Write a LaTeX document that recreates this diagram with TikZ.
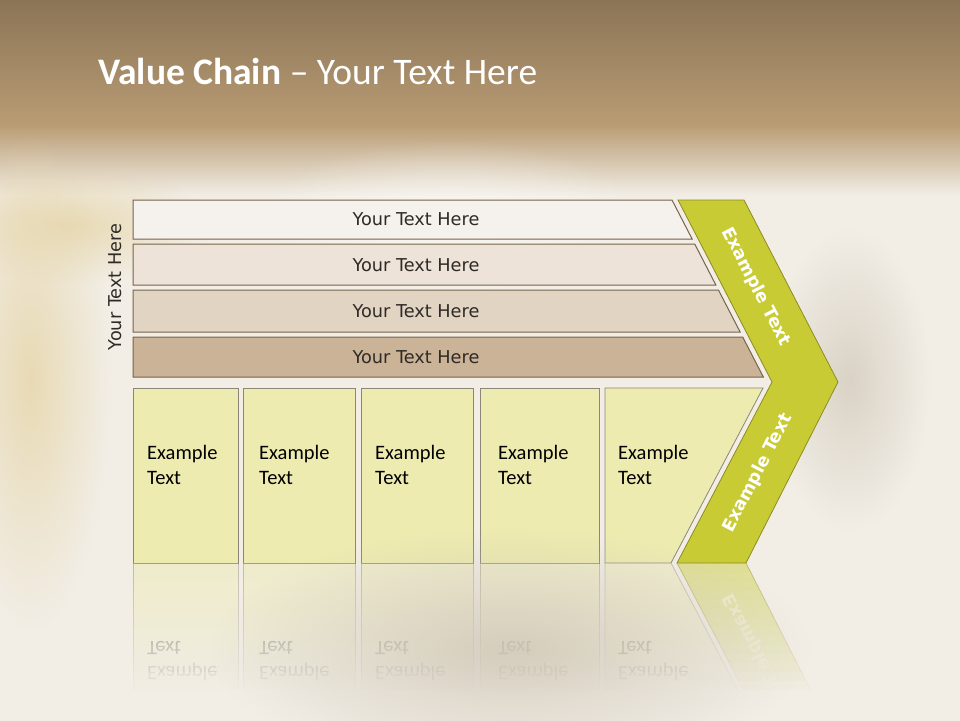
\documentclass[tikz,border=0pt]{standalone}
\usepackage{fontspec}
\setmainfont{Carlito}
\newfontfamily\barfont{DejaVu Sans}
\usetikzlibrary{positioning,fadings}
\definecolor{bgtop}{HTML}{8B7456}
\definecolor{bgmid}{HTML}{B99C74}
\definecolor{bgcream}{HTML}{F2EEE6}
\definecolor{blobtan}{HTML}{E6D5A8}
\definecolor{blobwhite}{HTML}{FBFAF7}
\definecolor{blobgrey}{HTML}{C9C0B0}
\definecolor{barone}{HTML}{F5F1EC}
\definecolor{bartwo}{HTML}{EDE3D8}
\definecolor{barthree}{HTML}{E2D4C3}
\definecolor{barfour}{HTML}{CBB397}
\definecolor{barline}{HTML}{76634D}
\definecolor{chevfill}{HTML}{C9CB35}
\definecolor{chevline}{HTML}{8C8C22}
\definecolor{cellfill}{HTML}{EDEBB0}
\definecolor{cellline}{HTML}{8A877A}
\definecolor{inktext}{HTML}{2E2A26}
\tikzfading[name=softblob,inner color=transparent!0,outer color=transparent!100]
\tikzset{
  bartext/.style={font=\barfont\fontsize{17.7}{20}\selectfont,text=inktext,inner sep=0pt},
  celltext/.style={font=\fontsize{20.5}{25}\selectfont,text=black,align=left,anchor=north west,inner sep=0pt,transform shape},
  chevtext/.style={font=\barfont\bfseries\fontsize{17.5}{20}\selectfont,text=white,inner sep=0pt,transform shape},
  barshape/.style={draw=barline,line width=1pt},
  cellshape/.style={draw=cellline,fill=cellfill,line width=0.8pt},
  chevshape/.style={draw=chevline,fill=chevfill,line width=0.8pt},
  blob/.style={path fading=softblob}
}
\newcommand{\cellrow}[1]{%
  \foreach \l/\r/\tx [count=\i] in {133/238/147,243/355/259,361/473/375,480/599/498}{
    \draw[cellshape] (\l,388) rectangle (\r,563);
    \node[celltext] (#1\i) at (\tx,445) {Example\\Text};
  }
  \draw[cellshape] (605,388) -- (763,388) -- (671,563) -- (605,563) -- cycle;
  \node[celltext] (#1five) at (618,445) {Example\\Text};
}
\newcommand{\chevron}[1]{%
  \draw[chevshape] (678,200) -- (744,200) -- (838,382) -- (746,563) -- (677,563) -- (772,382) -- cycle;
  \node[chevtext,rotate=62.7] (#1low) at (758,473) {Example Text};
}
\begin{document}
\begin{tikzpicture}[x=1pt,y=-1pt]
\useasboundingbox (0,0) rectangle (960,720);
\fill[bgcream] (0,0) rectangle (960,720);
\shade[top color=bgtop,bottom color=bgmid] (0,0) rectangle (960,125);
\shade[top color=bgmid,bottom color=bgcream] (0,125) rectangle (960,196);
\fill[blobtan,blob,opacity=0.8] (70,225) ellipse (140 and 60);
\fill[blobtan,blob,opacity=0.8] (30,380) ellipse (80 and 250);
\fill[blobwhite,blob,opacity=0.7] (450,225) ellipse (200 and 85);
\fill[blobgrey,blob,opacity=0.6] (850,380) ellipse (80 and 150);
\node[anchor=base west,inner sep=0pt,text=white,font=\fontsize{37.5}{40}\selectfont] (title) at (98,84) {\textbf{Value Chain} -- Your Text Here};
\node[bartext,rotate=90] (sidelabel) at (115,287) {Your Text Here};
\foreach \t/\b/\c/\ty [count=\i] in {200/239/barone/219,244/285/bartwo/265,290/332/barthree/311,337/377/barfour/357}{
  \pgfmathsetmacro\rt{672+0.516*(\t-200)}
  \pgfmathsetmacro\rb{672+0.516*(\b-200)}
  \draw[barshape,fill=\c] (133,\t) -- (\rt,\t) -- (\rb,\b) -- (133,\b) -- cycle;
  \node[bartext] (bar\i) at (416,\ty) {Your Text Here};
}
\cellrow{cell}
\chevron{chev}
\node[chevtext,rotate=-62.7] (chevup) at (756,287) {Example Text};
\begin{scope}[opacity=0.45,shift={(0,563)},yscale=-1,shift={(0,-563)}]
  \clip (0,388) rectangle (960,563);
  \cellrow{refl}
  \chevron{reflv}
\end{scope}
\foreach \k in {1,...,14}{
  \pgfmathsetmacro\a{1/(15-\k)}
  \fill[bgcream,opacity=\a] (-10,563.6+\k*9) rectangle (970,760);
}
\fill[blobgrey,blob,opacity=0.7] (510,650) ellipse (300 and 120);
\end{tikzpicture}
\end{document}
